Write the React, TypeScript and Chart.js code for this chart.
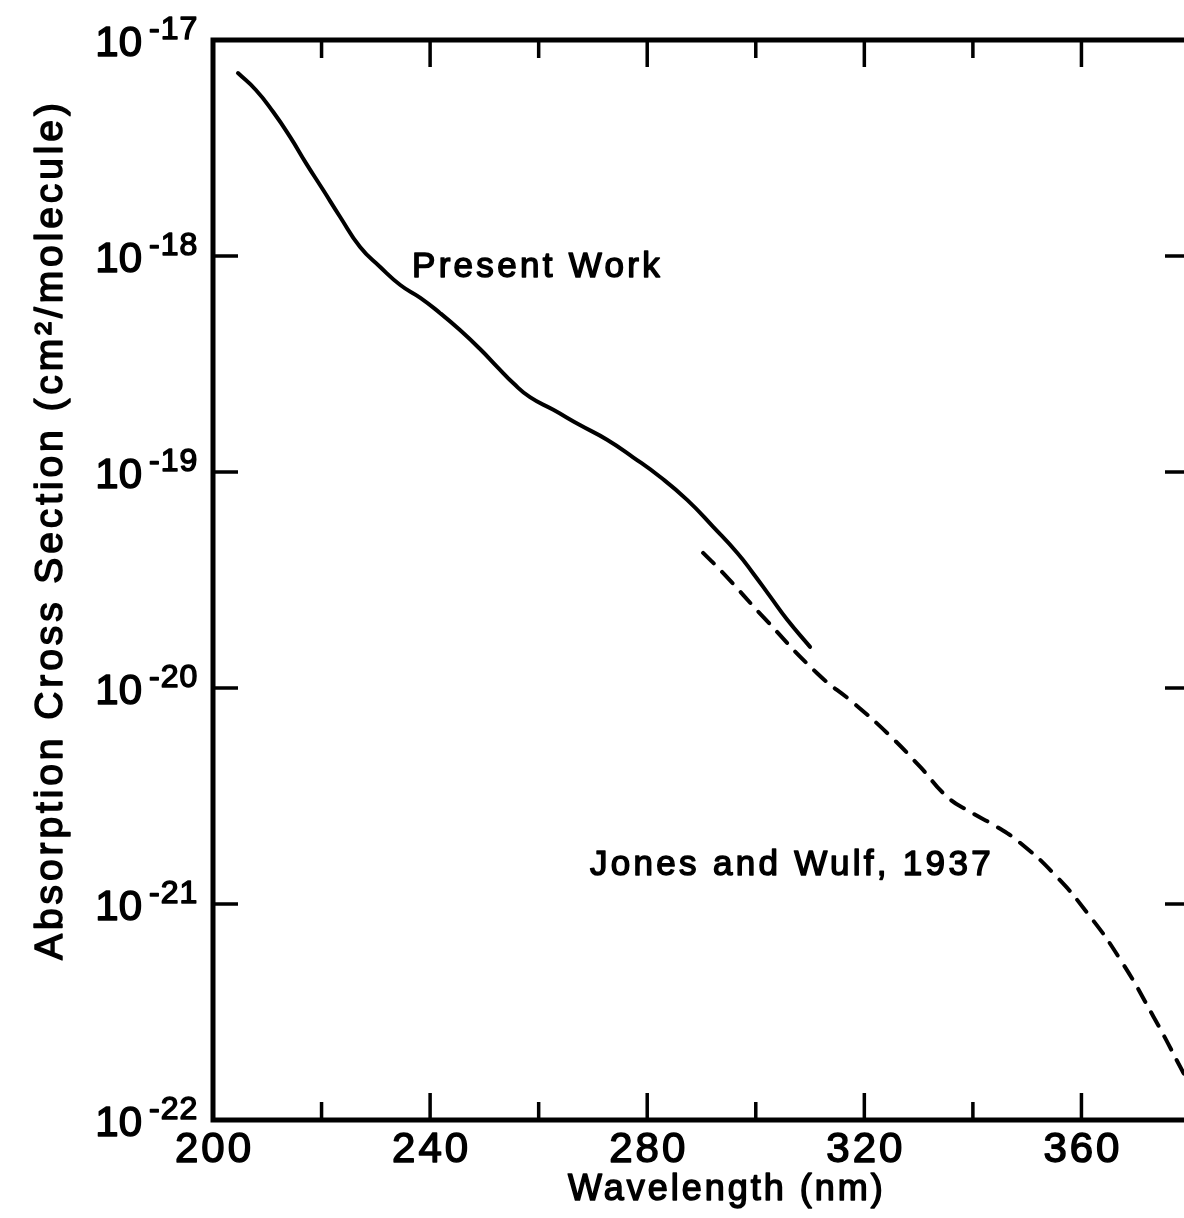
import React, { useEffect, useRef } from "react";
import { Chart, registerables } from "chart.js";

Chart.register(...registerables);

// "Present Work" curve (wavelength nm, cross section cm^2/molecule)
const presentWavelength = [
  204.6, 207.9, 211.1, 214.2, 217.1, 220.3, 223.4, 227.1, 230.8, 234.5,
  238.2, 241.8, 245.5, 249.2, 252.4, 255.3, 258.4, 262.7, 267.6, 272.6,
  277.4, 282.4, 287.4, 292.2, 296.6, 299.5, 302.7, 305.8, 310.0,
];
const presentSigma = [
  7.03e-18, 5.87e-18, 4.64e-18, 3.56e-18, 2.7e-18, 2.02e-18, 1.52e-18, 1.1e-18, 8.89e-19, 7.34e-19,
  6.4e-19, 5.45e-19, 4.54e-19, 3.71e-19, 3.06e-19, 2.58e-19, 2.22e-19, 1.94e-19, 1.65e-19, 1.41e-19,
  1.17e-19, 9.48e-20, 7.41e-20, 5.56e-20, 4.22e-20, 3.4e-20, 2.64e-20, 2.07e-20, 1.55e-20,
];

// "Jones and Wulf, 1937" curve
const jonesWavelength = [
  290.3, 294.0, 301.4, 311.3, 318.0, 324.2, 330.3, 335.3, 339.5, 344.5,
  348.8, 354.8, 361.1, 367.2, 373.3, 378.8, 380.0,
];
const jonesSigma = [
  4.22e-20, 3.4e-20, 2.13e-20, 1.17e-20, 8.53e-21, 6.19e-21, 4.31e-21, 3.13e-21, 2.67e-21, 2.27e-21,
  1.91e-21, 1.39e-21, 9.08e-22, 5.51e-22, 3.0e-22, 1.65e-22, 1.45e-22,
];

const xMajorTicks = [200, 240, 280, 320, 360];
const xMajorLabels = ["200", "240", "280", "320", "360"];
const xMinorTicks = [220, 260, 300, 340, 380];
const yDecades = [1e-17, 1e-18, 1e-19, 1e-20, 1e-21, 1e-22];
const yExponentLabels = ["-17", "-18", "-19", "-20", "-21", "-22"];

const xTitle = "Wavelength (nm)";
const yTitle = "Absorption Cross Section (cm\u00B2/molecule)";
const presentLabel = "Present Work";
const jonesLabel = "Jones and Wulf, 1937";

const FONT = "'Liberation Sans', Arial, sans-serif";

function drawText(
  ctx: CanvasRenderingContext2D,
  text: string,
  x: number,
  y: number,
  size: number,
  spacing: number,
  align: CanvasTextAlign
) {
  ctx.save();
  ctx.font = `${size}px ${FONT}`;
  (ctx as any).letterSpacing = `${spacing}px`;
  ctx.textAlign = align;
  ctx.textBaseline = "alphabetic";
  ctx.fillStyle = "#000";
  ctx.strokeStyle = "#000";
  ctx.lineWidth = 1.5;
  ctx.lineJoin = "round";
  ctx.fillText(text, x, y);
  ctx.strokeText(text, x, y);
  ctx.restore();
}

const framePlugin = {
  id: "framePlugin",
  afterDatasetsDraw(chart: any) {
    const ctx: CanvasRenderingContext2D = chart.ctx;
    const { left, right, top, bottom } = chart.chartArea;
    const xs = chart.scales.x;
    const ys = chart.scales.y;

    ctx.save();
    ctx.strokeStyle = "#000";
    ctx.lineCap = "square";
    ctx.lineWidth = 5;
    ctx.strokeRect(left, top, right - left, bottom - top);

    ctx.lineWidth = 3.5;
    ctx.lineCap = "butt";
    const drawXTick = (v: number, len: number) => {
      const px = xs.getPixelForValue(v);
      ctx.beginPath();
      ctx.moveTo(px, bottom);
      ctx.lineTo(px, bottom - len);
      ctx.moveTo(px, top);
      ctx.lineTo(px, top + len);
      ctx.stroke();
    };
    xMajorTicks.forEach((v) => drawXTick(v, 27));
    xMinorTicks.forEach((v) => drawXTick(v, 18));

    yDecades.forEach((v) => {
      const py = ys.getPixelForValue(v);
      ctx.beginPath();
      ctx.moveTo(left, py);
      ctx.lineTo(left + 25, py);
      ctx.moveTo(right, py);
      ctx.lineTo(right - 25, py);
      ctx.stroke();
    });
    ctx.restore();

    // x tick labels
    xMajorTicks.forEach((v, i) => {
      const px = xs.getPixelForValue(v);
      drawText(ctx, xMajorLabels[i], px + 1.5, bottom + 42, 42, 3, "center");
    });

    // y tick labels 10^n
    yDecades.forEach((v, i) => {
      const py = ys.getPixelForValue(v);
      drawText(ctx, "10", left - 71, py + 16, 42, 0, "right");
      drawText(ctx, yExponentLabels[i], left - 64, py - 1, 32, 1, "left");
    });

    // axis titles
    drawText(ctx, xTitle, 568, 1200, 36, 3, "left");
    ctx.save();
    ctx.translate(62, 960);
    ctx.rotate(-Math.PI / 2);
    drawText(ctx, yTitle, 0, 0, 39, 3.9, "left");
    ctx.restore();

    // curve labels
    drawText(ctx, presentLabel, 412, 277, 35, 3.3, "left");
    drawText(ctx, jonesLabel, 590, 875, 35, 3.3, "left");
  },
};

export default function App() {
  const canvasRef = useRef<HTMLCanvasElement | null>(null);

  useEffect(() => {
    const canvas = canvasRef.current;
    if (!canvas) return;
    const chart = new Chart(canvas, {
      type: "line",
      data: {
        datasets: [
          {
            label: presentLabel,
            data: presentWavelength.map((x, i) => ({ x, y: presentSigma[i] })),
            borderColor: "#000",
            borderWidth: 4,
            pointRadius: 0,
            fill: false,
            tension: 0.5,
            borderCapStyle: "round",
            borderJoinStyle: "round",
          },
          {
            label: jonesLabel,
            data: jonesWavelength.map((x, i) => ({ x, y: jonesSigma[i] })),
            borderColor: "#000",
            borderWidth: 4,
            pointRadius: 0,
            fill: false,
            tension: 0.5,
            borderDash: [15, 12],
            borderCapStyle: "round",
          },
        ],
      },
      options: {
        animation: false,
        responsive: false,
        devicePixelRatio: 1,
        layout: { padding: { left: 213, top: 40, right: 10, bottom: 98 } },
        plugins: {
          legend: { display: false },
          tooltip: { enabled: false },
        },
        scales: {
          x: { type: "linear", min: 200, max: 380, display: false },
          y: { type: "logarithmic", min: 1e-22, max: 1e-17, display: false },
        },
      },
      plugins: [framePlugin],
    } as any);
    return () => chart.destroy();
  }, []);

  return (
    <div
      style={{
        position: "fixed",
        left: 0,
        top: 0,
        width: 1184,
        height: 1218,
        overflow: "hidden",
        background: "#fff",
      }}
    >
      <canvas
        ref={canvasRef}
        width={1200}
        height={1218}
        style={{ display: "block", width: 1200, height: 1218 }}
      />
    </div>
  );
}
